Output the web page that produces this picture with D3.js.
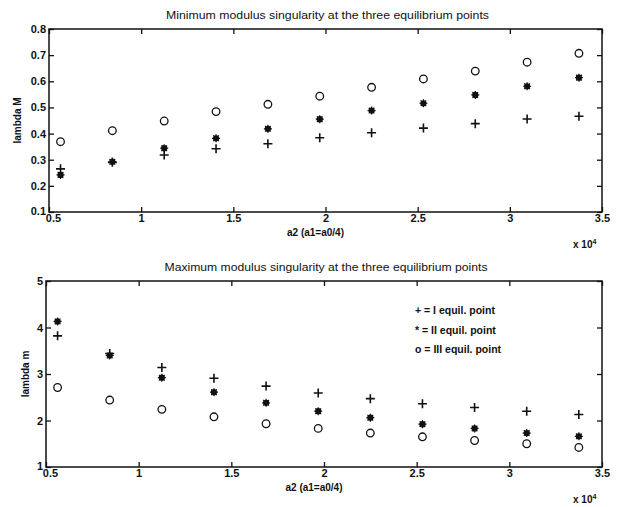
<!DOCTYPE html>
<html>
<head>
<meta charset="utf-8">
<script src="https://cdn.jsdelivr.net/npm/d3@7"></script>
<style>
  html, body { margin: 0; padding: 0; background: #fff; }
  svg { display: block; font-family: "Liberation Sans", Arial, sans-serif; }
</style>
</head>
<body>
<svg id="chart" width="624" height="507"></svg>
<script>
'use strict';

// a2 values (x 10^4)
const a2 = [0.5625, 0.84375, 1.125, 1.40625, 1.6875, 1.96875, 2.25, 2.53125, 2.8125, 3.09375, 3.375];

// Minimum modulus (lambda M)
const minI   = [0.265, 0.29, 0.318, 0.342, 0.361, 0.384, 0.403, 0.421, 0.438, 0.456, 0.466];
const minII  = [0.242, 0.292, 0.344, 0.382, 0.418, 0.455, 0.488, 0.516, 0.548, 0.581, 0.614];
const minIII = [0.369, 0.411, 0.448, 0.484, 0.512, 0.543, 0.577, 0.609, 0.639, 0.673, 0.707];

// Maximum modulus (lambda m)
const maxI   = [3.82, 3.44, 3.14, 2.91, 2.74, 2.59, 2.47, 2.36, 2.28, 2.20, 2.13];
const maxII  = [4.13, 3.40, 2.92, 2.61, 2.38, 2.20, 2.06, 1.92, 1.83, 1.73, 1.66];
const maxIII = [2.71, 2.44, 2.24, 2.08, 1.93, 1.83, 1.73, 1.65, 1.57, 1.50, 1.42];

const xTicks    = [0.5, 1, 1.5, 2, 2.5, 3, 3.5];
const topYTicks = [0.1, 0.2, 0.3, 0.4, 0.5, 0.6, 0.7, 0.8];
const botYTicks = [1, 2, 3, 4, 5];

const legendLabels = ['+ = I equil. point', '* = II equil. point', 'o = III equil. point'];

const svg = d3.select('#chart');
const INK = '#111';

// ── Marker drawers ──────────────────────────────────────────
function drawPlus(g, x, y) {
  g.append('path').attr('d', `M${x - 4.5},${y}H${x + 4.5}M${x},${y - 4.5}V${y + 4.5}`)
    .attr('stroke', INK).attr('stroke-width', 1.6).attr('fill', 'none');
}
function drawStar(g, x, y) {
  g.append('circle').attr('cx', x).attr('cy', y).attr('r', 3.1).attr('fill', INK);
  const p = d3.range(4).map(i => {
    const a = i * Math.PI / 4;
    const dx = Math.cos(a) * 4, dy = Math.sin(a) * 4;
    return `M${x - dx},${y - dy}L${x + dx},${y + dy}`;
  }).join('');
  g.append('path').attr('d', p).attr('stroke', INK).attr('stroke-width', 1.2);
}
function drawCircle(g, x, y) {
  g.append('circle').attr('cx', x).attr('cy', y).attr('r', 3.8)
    .attr('fill', 'none').attr('stroke', INK).attr('stroke-width', 1.3);
}

// ── Panel ───────────────────────────────────────────────────
function panel(cfg) {
  const { left, right, top, bottom, yDomain, yTicks, yFmt, title, ylabel, ylabelX, series } = cfg;
  const x = d3.scaleLinear().domain([0.5, 3.5]).range([left, right]);
  const y = d3.scaleLinear().domain(yDomain).range([bottom, top]);
  const g = svg.append('g');

  // frame
  g.append('rect').attr('x', left).attr('y', top)
    .attr('width', right - left).attr('height', bottom - top)
    .attr('fill', 'none').attr('stroke', INK).attr('stroke-width', 1.5);

  // axes with inward ticks
  const bx = g.append('g').attr('transform', `translate(0,${bottom})`)
    .call(d3.axisBottom(x).tickValues(xTicks).tickSizeInner(-5).tickSizeOuter(0)
      .tickPadding(4).tickFormat(d3.format('')));
  const tx = g.append('g').attr('transform', `translate(0,${top})`)
    .call(d3.axisTop(x).tickValues(xTicks).tickSizeInner(-5).tickSizeOuter(0).tickFormat(''));
  const ly = g.append('g').attr('transform', `translate(${left},0)`)
    .call(d3.axisLeft(y).tickValues(yTicks).tickSizeInner(-5).tickSizeOuter(0)
      .tickPadding(3).tickFormat(yFmt));
  const ry = g.append('g').attr('transform', `translate(${right},0)`)
    .call(d3.axisRight(y).tickValues(yTicks).tickSizeInner(-5).tickSizeOuter(0).tickFormat(''));
  [bx, tx, ly, ry].forEach(a => {
    a.select('.domain').remove();
    a.selectAll('line').attr('stroke', INK).attr('stroke-width', 1.3);
    a.selectAll('text').attr('fill', INK).attr('font-size', 11).attr('font-weight', 'bold')
      .attr('font-family', '"Liberation Sans", Arial, sans-serif');
  });
  bx.selectAll('text').attr('dy', '0.55em');
  // first x label sits a touch right of the corner, as in the original
  bx.selectAll('text').filter(d => d === 0.5).attr('dx', 4);
  ly.selectAll('text').filter(d => d === yDomain[0]).attr('dy', '0.2em');

  // titles
  g.append('text').attr('x', (left + right) / 2 + 2).attr('y', top - 10)
    .attr('text-anchor', 'middle').attr('font-size', 10.5).attr('fill', INK)
    .attr('textLength', 323).attr('lengthAdjust', 'spacingAndGlyphs')
    .text(title);
  g.append('text').attr('x', (left + right) / 2 - 10).attr('y', bottom + 24)
    .attr('text-anchor', 'middle').attr('font-size', 10).attr('font-weight', 'bold')
    .attr('fill', INK).text('a2 (a1=a0/4)');
  const ex = g.append('text').attr('x', right - 29).attr('y', bottom + 36)
    .attr('font-size', 10).attr('font-weight', 'bold').attr('fill', INK);
  ex.append('tspan').text('x 10');
  ex.append('tspan').attr('dy', -4).attr('font-size', 7).text('4');
  g.append('text')
    .attr('transform', `translate(${ylabelX},${(top + bottom) / 2}) rotate(-90)`)
    .attr('text-anchor', 'middle').attr('font-size', 10).attr('font-weight', 'bold')
    .attr('fill', INK).text(ylabel);

  // points
  const pts = g.append('g');
  series.forEach(s => {
    s.values.forEach((v, i) => s.draw(pts, x(a2[i]), y(v)));
  });
  return { g, x, y };
}

panel({
  left: 49, right: 602, top: 29, bottom: 212,
  yDomain: [0.1, 0.8], yTicks: topYTicks, yFmt: d3.format('.1f'),
  title: 'Minimum modulus singularity at the three equilibrium points',
  ylabel: 'lambda M', ylabelX: 21,
  series: [
    { values: minIII, draw: drawCircle },
    { values: minII,  draw: drawStar },
    { values: minI,   draw: drawPlus },
  ],
});

const bot = panel({
  left: 46, right: 602, top: 281, bottom: 467,
  yDomain: [1, 5], yTicks: botYTicks, yFmt: d3.format('d'),
  title: 'Maximum modulus singularity at the three equilibrium points',
  ylabel: 'lambda m', ylabelX: 29,
  series: [
    { values: maxIII, draw: drawCircle },
    { values: maxII,  draw: drawStar },
    { values: maxI,   draw: drawPlus },
  ],
});

// ── Legend ──────────────────────────────────────────────────
bot.g.append('g').selectAll('text')
  .data(legendLabels)
  .join('text')
    .attr('x', 415)
    .attr('y', (d, i) => 314 + i * 19.5)
    .attr('font-size', 10.5).attr('font-weight', 'bold').attr('fill', INK)
    .text(d => d);
</script>
</body>
</html>
